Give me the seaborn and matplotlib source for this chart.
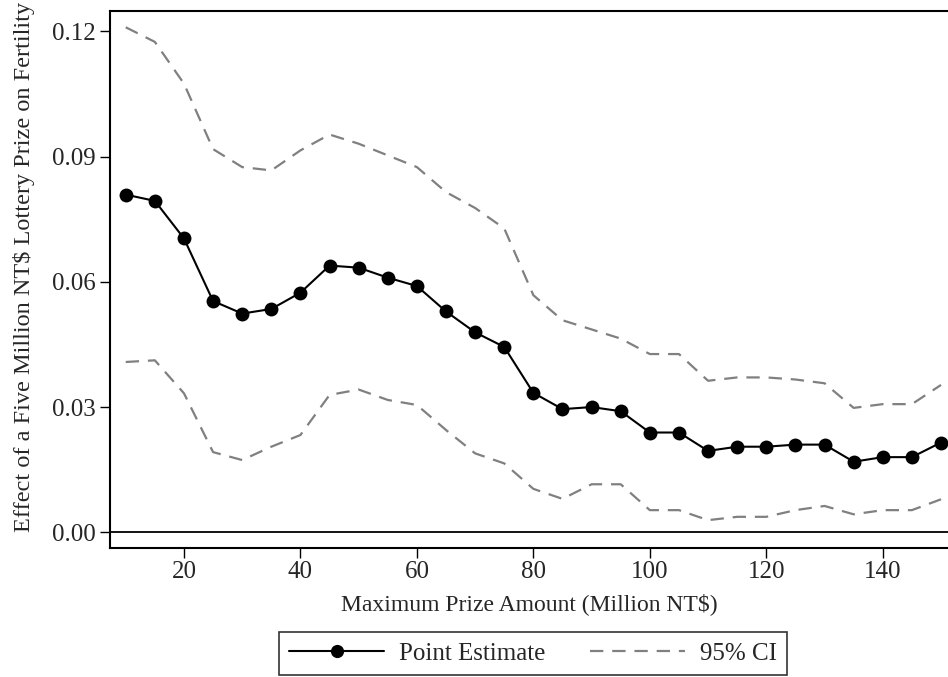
import numpy as np
import pandas as pd
import seaborn as sns
import matplotlib
matplotlib.use("Agg")
import matplotlib.pyplot as plt
from matplotlib.lines import Line2D

# Maximum prize amount (million NT$)
prize = [10, 15, 20, 25, 30, 35, 40, 45, 50, 55, 60, 65, 70, 75, 80,
         85, 90, 95, 100, 105, 110, 115, 120, 125, 130, 135, 140, 145, 150]

# Estimated effect of a five million NT$ prize on fertility
estimate = [0.0809, 0.0794, 0.0704, 0.0554, 0.0524, 0.0535, 0.0574, 0.0639,
            0.0634, 0.0610, 0.0590, 0.0529, 0.0479, 0.0444, 0.0334, 0.0295,
            0.0300, 0.0290, 0.0239, 0.0239, 0.0195, 0.0205, 0.0205, 0.0210,
            0.0210, 0.0169, 0.0180, 0.0180, 0.0215]

# 95% confidence bounds
ci_upper = [0.1210, 0.1175, 0.1075, 0.0918, 0.0875, 0.0867, 0.0915, 0.0953,
            0.0931, 0.0903, 0.0875, 0.0815, 0.0777, 0.0728, 0.0568, 0.0508,
            0.0486, 0.0464, 0.0427, 0.0427, 0.0363, 0.0371, 0.0371, 0.0366,
            0.0357, 0.0298, 0.0307, 0.0307, 0.0353]
ci_lower = [0.0408, 0.0412, 0.0333, 0.0192, 0.0173, 0.0205, 0.0233, 0.0329,
            0.0342, 0.0317, 0.0305, 0.0245, 0.0189, 0.0165, 0.0104, 0.0080,
            0.0115, 0.0115, 0.0053, 0.0053, 0.0029, 0.0037, 0.0037, 0.0053,
            0.0063, 0.0043, 0.0053, 0.0053, 0.0079]

x_ticks = [20, 40, 60, 80, 100, 120, 140]
y_ticks = [0.00, 0.03, 0.06, 0.09, 0.12]

df = pd.DataFrame({"prize": prize, "estimate": estimate,
                   "upper": ci_upper, "lower": ci_lower})

sns.set_theme(style="white")
plt.rcParams["font.family"] = ["Liberation Serif", "DejaVu Serif"]
plt.rcParams["mathtext.fontset"] = "stix"

fig = plt.figure(figsize=(9.48, 6.77), dpi=100)
ax = fig.add_axes([110 / 948, 1 - 547.7 / 677, 1 - 110 / 948, (547.7 - 11) / 677])

ci_style = dict(color="#808080", linewidth=1.6, dashes=(6, 4))
sns.lineplot(data=df, x="prize", y="upper", ax=ax, **ci_style)
sns.lineplot(data=df, x="prize", y="lower", ax=ax, **ci_style)
ax.axhline(0, color="black", linewidth=1.3, zorder=2)
sns.lineplot(data=df, x="prize", y="estimate", ax=ax, color="black",
             linewidth=1.5, marker="o", markersize=10, markeredgewidth=0,
             markerfacecolor="black", zorder=3)

ax.set_xlim(7.3, 151.2)
ax.set_ylim(-0.0037, 0.1249)
ax.set_xticks(x_ticks)
ax.set_xticklabels([str(t) for t in x_ticks])
ax.set_yticks(y_ticks)
ax.set_yticklabels([f"{t:.2f}" for t in y_ticks])

ax.tick_params(axis="both", which="major", direction="out", length=7.5,
               width=1.0, color="black", labelsize=18, pad=3,
               bottom=True, left=True)
ax.tick_params(axis="x", pad=2)
for side in ["left", "bottom", "top"]:
    ax.spines[side].set_visible(True)
    ax.spines[side].set_color("black")
    ax.spines[side].set_linewidth(1.5)
ax.spines["right"].set_visible(False)

ax.set_xlabel("Maximum Prize Amount (Million NT$)", fontsize=17, labelpad=7)
ax.set_ylabel("Effect of a Five Million NT$ Lottery Prize on Fertility",
              fontsize=17.5)
ax.yaxis.set_label_coords(-0.089, 0.524)

handles = [
    Line2D([], [], color="black", linewidth=1.5, marker="o", markersize=9.5,
           markeredgewidth=0),
    Line2D([], [], color="#808080", linewidth=1.6, dashes=(6, 4)),
]
leg = fig.legend(handles, ["Point Estimate", "95% CI"], ncol=2,
                 loc="center", bbox_to_anchor=(533 / 948, 1 - 653.5 / 677),
                 fontsize=18, frameon=True, fancybox=False, handlelength=3.8,
                 columnspacing=1.75, handletextpad=0.6, borderpad=0.4,
                 borderaxespad=0)
leg.get_frame().set_edgecolor("black")
leg.get_frame().set_linewidth(1.2)

fig.savefig("out.png", dpi=100)
